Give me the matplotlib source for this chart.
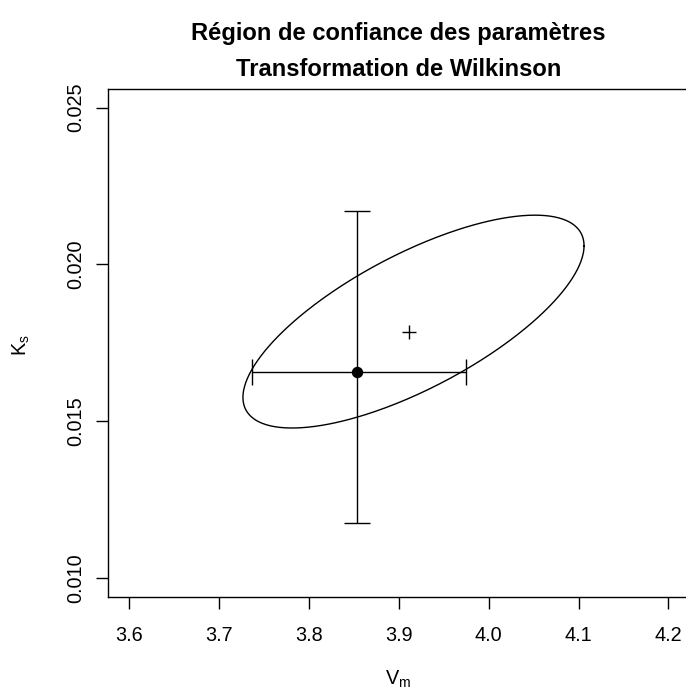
import numpy as np
import matplotlib
matplotlib.use("Agg")
from matplotlib import pyplot as plt

plt.rcParams["font.family"] = ["Liberation Sans", "DejaVu Sans"]
plt.rcParams["mathtext.fontset"] = "custom"
plt.rcParams["mathtext.rm"] = "Liberation Sans"
plt.rcParams["mathtext.it"] = "Liberation Sans"

# estimation ponctuelle et intervalles de confiance
vm_est = 3.853
ks_est = 0.01656
vm_ci = [3.737, 3.975]
ks_ci = [0.01175, 0.02171]

# point "+" (estimation du modele non lineaire)
vm_plus = 3.9115
ks_plus = 0.01785

# ellipse de confiance : centre, demi-etendues, correlation
ell_center = [3.9163, 0.018174]
ell_half = [0.1898, 0.003394]
ell_rho = 0.712

xlim = [3.576, 4.224]
ylim = [0.0094, 0.0256]
xticks = [3.6, 3.7, 3.8, 3.9, 4.0, 4.1, 4.2]
yticks = [0.010, 0.015, 0.020, 0.025]

fig = plt.figure(figsize=(6.86, 6.90), dpi=100)
ax = fig.add_axes([0.157, 0.1352, 0.8488, 0.7362])

t = np.linspace(0, 2 * np.pi, 400)
d = np.arccos(ell_rho)
ex = ell_center[0] + ell_half[0] * np.cos(t)
ey = ell_center[1] + ell_half[1] * np.cos(t - d)
ax.plot(ex, ey, color="black", lw=1.0)

ax.errorbar([vm_est], [ks_est],
            xerr=[[vm_est - vm_ci[0]], [vm_ci[1] - vm_est]],
            yerr=[[ks_est - ks_ci[0]], [ks_ci[1] - ks_est]],
            fmt="o", color="black", ms=7.2, elinewidth=1.0,
            capsize=9.1, capthick=1.0)
ax.plot([vm_plus], [ks_plus], marker="+", color="black", ms=9.6, mew=1.0,
        ls="none")

ax.set_xlim(xlim)
ax.set_ylim(ylim)
ax.set_xticks(xticks)
ax.set_xticklabels([f"{v:.1f}" for v in xticks])
ax.set_yticks(yticks)
ax.set_yticklabels([f"{v:.3f}" for v in yticks])
ax.tick_params(length=8.6, width=1.0, labelsize=14.3, color="black")
ax.tick_params(axis="x", pad=12.5)
ax.tick_params(axis="y", pad=7.5)
plt.setp(ax.get_yticklabels(), rotation=90, va="center")
for s in ax.spines.values():
    s.set_linewidth(1.0)

fig.text(0.581, 0.951, "Région de confiance des paramètres", ha="center",
         va="center", fontsize=17.1, fontweight="bold")
fig.text(0.581, 0.900, "Transformation de Wilkinson", ha="center",
         va="center", fontsize=17.1, fontweight="bold")
fig.text(0.581, 0.016, r"$\mathrm{V}_\mathrm{m}$", ha="center", va="center",
         fontsize=14.3)
fig.text(0.031, 0.50, r"$\mathrm{K}_\mathrm{s}$", ha="center", va="center",
         fontsize=14.3, rotation=90)

fig.savefig("out.png", dpi=100)
plt.close()
